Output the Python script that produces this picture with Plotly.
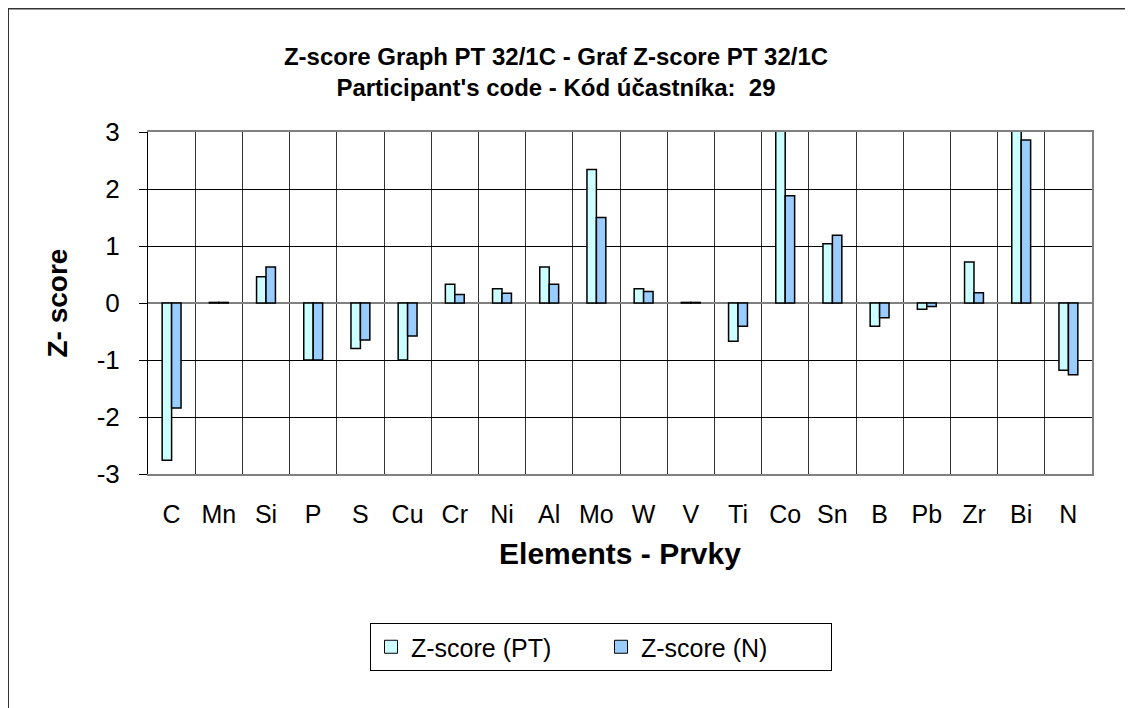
import plotly.graph_objects as go

elements = ["C", "Mn", "Si", "P", "S", "Cu", "Cr", "Ni", "Al", "Mo",
            "W", "V", "Ti", "Co", "Sn", "B", "Pb", "Zr", "Bi", "N"]
z_pt = [-2.76, 0.01, 0.46, -1.00, -0.80, -1.00, 0.33, 0.25, 0.63, 2.34,
        0.25, 0.01, -0.67, 4.2, 1.04, -0.41, -0.11, 0.72, 3.6, -1.18]
z_n = [-1.84, 0.01, 0.63, -1.00, -0.65, -0.58, 0.15, 0.17, 0.33, 1.50,
       0.20, 0.01, -0.41, 1.88, 1.19, -0.26, -0.06, 0.18, 2.86, -1.26]
y_ticks = [-3, -2, -1, 0, 1, 2, 3]
y_ticktext = [str(v) for v in y_ticks]
series_names = ["Z-score (PT)", "Z-score (N)"]
series_colors = ["#CCFFFF", "#99CCFF"]

FONT = "Liberation Sans, Arial, sans-serif"

fig = go.Figure()
for name, vals, col in zip(series_names, [z_pt, z_n], series_colors):
    fig.add_trace(go.Bar(x=elements, y=vals, name=name, legendgroup=name,
                         showlegend=False,
                         marker=dict(color=col, line=dict(color="black", width=1.5))))
# legend keys as small squares (like the reference)
for name, col in zip(series_names, series_colors):
    fig.add_trace(go.Scatter(x=[None], y=[None], name=name, legendgroup=name,
                             mode="markers", hoverinfo="skip",
                             marker=dict(symbol="square", size=13, color=col,
                                         line=dict(color="black", width=1))))
# invisible trace on secondary y axis to draw the right border of the plot area
fig.add_trace(go.Scatter(x=elements, y=[None] * len(elements), yaxis="y2",
                         showlegend=False, hoverinfo="skip"))

# page body has an 8px margin -> figure coordinates = reference - 8
W, H = 1125, 700
L, R, T, B = 140, 41, 124, 234
pw, ph = W - L - R, H - T - B

fig.update_layout(
    width=W, height=H,
    margin=dict(l=L, r=R, t=T, b=B, pad=0),
    paper_bgcolor="white", plot_bgcolor="white",
    barmode="group", bargap=0.6, bargroupgap=0,
    font=dict(family=FONT, color="black"),
    title=dict(text="<b>Z-score Graph PT 32/1C - Graf Z-score PT 32/1C<br>Participant's code - Kód účastníka:  29</b>",
               x=548 / W, xanchor="center", y=1 - 57 / H, yanchor="middle",
               font=dict(size=24, family=FONT)),
    xaxis=dict(type="category", tickson="boundaries", showgrid=True,
               gridcolor="#333333", gridwidth=1, ticks="",
               showline=True, linecolor="#808080", linewidth=2, mirror=True,
               tickfont=dict(size=25), ticklabelstandoff=17,
               title=dict(text="<b>Elements - Prvky</b>", font=dict(size=30), standoff=16)),
    yaxis=dict(range=[-3, 3], tickvals=y_ticks, ticktext=y_ticktext, showgrid=True,
               gridcolor="black", gridwidth=1,
               zeroline=True, zerolinecolor="#808080", zerolinewidth=2,
               showline=True, linecolor="black", linewidth=1,
               ticks="outside", ticklen=8, tickcolor="black",
               tickfont=dict(size=26), ticklabelstandoff=14,
               title=dict(text="<b>Z- score</b>", font=dict(size=28), standoff=20)),
    yaxis2=dict(range=[-3, 3], overlaying="y", side="right", showgrid=False,
                zeroline=False, showticklabels=False, ticks="",
                showline=True, linecolor="#808080", linewidth=2),
    legend=dict(orientation="h", x=(593 - L) / pw, xanchor="center",
                y=(H - B - 639) / ph, yanchor="middle",
                bordercolor="black", borderwidth=1, bgcolor="white",
                font=dict(size=25), itemwidth=30, entrywidth=185,
                traceorder="normal"),
    showlegend=True,
)

fig.add_shape(type="rect", xref="paper", yref="paper",
              x0=(0 - L) / pw, x1=(W + 10 - L) / pw,
              y0=(H - B - (H + 10)) / ph, y1=(H - B - 0.5) / ph,
              line=dict(color="#333333", width=2), fillcolor="rgba(0,0,0,0)",
              layer="below")

fig.write_html("out.html")
